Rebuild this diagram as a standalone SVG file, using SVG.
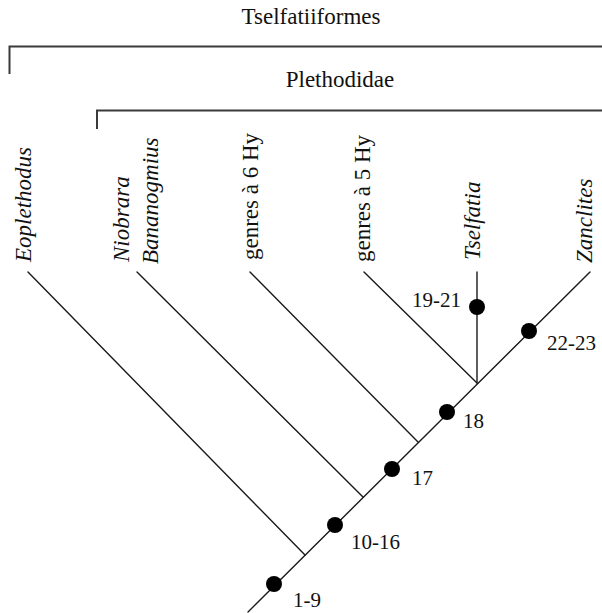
<svg xmlns="http://www.w3.org/2000/svg" width="602" height="613" viewBox="0 0 602 613">
<style>
.ln{stroke:#1a1a1a;stroke-width:1.4;fill:none;stroke-linecap:round}
.br{stroke:#3a3a3a;stroke-width:2;fill:none}
.dot{fill:#000}
.lbl{font-family:"Liberation Serif","Times New Roman",serif;font-size:23px;fill:#111}
.it{font-style:italic}
.num{font-family:"Liberation Serif","Times New Roman",serif;font-size:21px;fill:#111}
</style>
<rect width="602" height="613" fill="#fff"/>
<g id="groups">
<g id="tselfatiiformes">
<path class="br" d="M9.5,74 V46.5 H602"/>
<text class="lbl" x="311" y="24" text-anchor="middle" font-size="23.5">Tselfatiiformes</text>
</g>
<g id="plethodidae">
<path class="br" d="M97,129 V110.5 H602"/>
<text class="lbl" x="340" y="87" text-anchor="middle" font-size="23.5">Plethodidae</text>
</g>
</g>
<g id="connectors">
<line class="ln" x1="248" y1="612" x2="590" y2="272"/>
<line class="ln" x1="305" y1="555" x2="28" y2="272"/>
<line class="ln" x1="363" y1="497" x2="137" y2="272"/>
<line class="ln" x1="418" y1="442" x2="250" y2="272"/>
<line class="ln" x1="477" y1="383" x2="364" y2="272"/>
<line class="ln" x1="477" y1="383" x2="477" y2="272"/>
</g>
<g id="taxa">
<g id="eoplethodus"><text class="lbl it" transform="translate(31,262) rotate(-90)">Eoplethodus</text></g>
<g id="niobrara"><text class="lbl it" transform="translate(129,262) rotate(-90)">Niobrara</text></g>
<g id="bananogmius"><text class="lbl it" transform="translate(158,264) rotate(-90)">Bananogmius</text></g>
<g id="genres6"><text class="lbl" transform="translate(258,260) rotate(-90)">genres à 6 Hy</text></g>
<g id="genres5"><text class="lbl" transform="translate(370,262) rotate(-90)">genres à 5 Hy</text></g>
<g id="tselfatia"><text class="lbl it" transform="translate(480,260) rotate(-90)">Tselfatia</text></g>
<g id="zanclites"><text class="lbl it" transform="translate(592,263) rotate(-90)">Zanclites</text></g>
</g>
<g id="characters">
<g id="c1-9"><circle class="dot" cx="274" cy="584" r="8"/><text class="num" x="293" y="607">1-9</text></g>
<g id="c10-16"><circle class="dot" cx="335" cy="525" r="8"/><text class="num" x="351" y="549">10-16</text></g>
<g id="c17"><circle class="dot" cx="392" cy="469" r="8"/><text class="num" x="412" y="485">17</text></g>
<g id="c18"><circle class="dot" cx="447" cy="412" r="8"/><text class="num" x="463" y="428">18</text></g>
<g id="c19-21"><circle class="dot" cx="477" cy="307" r="8"/><text class="num" x="412" y="307">19-21</text></g>
<g id="c22-23"><circle class="dot" cx="529" cy="331" r="8"/><text class="num" x="547" y="350">22-23</text></g>
</g>
</svg>
